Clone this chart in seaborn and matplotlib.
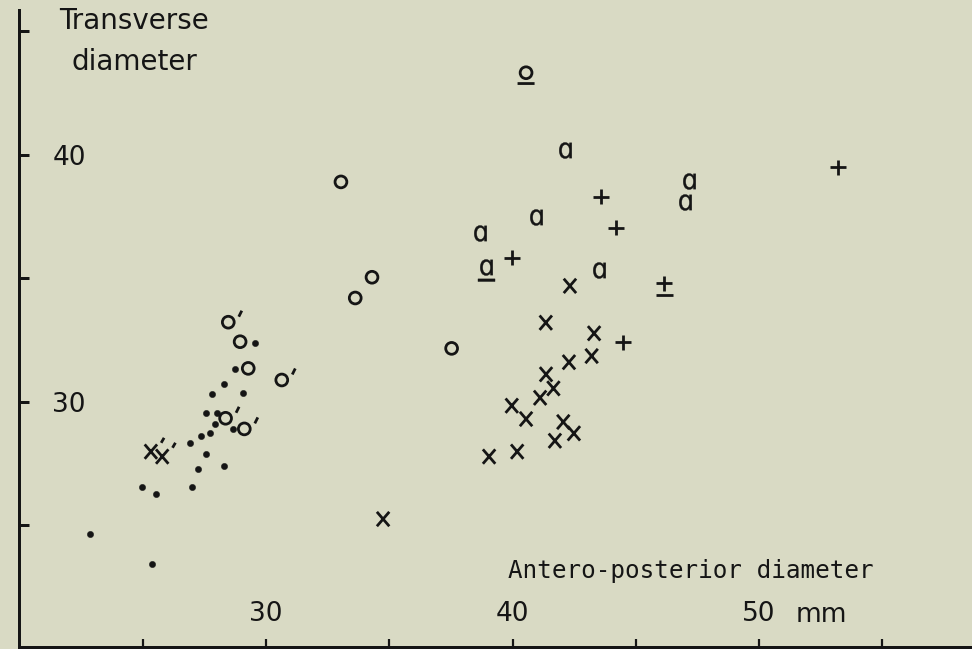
import numpy as np
import pandas as pd
import matplotlib
matplotlib.use("Agg")
import matplotlib.pyplot as plt
import seaborn as sns
from matplotlib.path import Path
from matplotlib.textpath import TextPath
from matplotlib.font_manager import FontProperties

# ---------------- data ----------------
# filled dots
dot_x = [22.86, 24.96, 25.55, 25.39, 26.99, 27.26, 28.31, 27.55, 26.90, 27.38,
         27.73, 27.95, 28.67, 27.57, 28.00, 27.81, 29.07, 28.30, 28.76, 29.55]
dot_y = [24.67, 26.56, 26.26, 23.45, 26.57, 27.30, 27.41, 27.89, 28.33, 28.63,
         28.74, 29.09, 28.91, 29.54, 29.57, 30.31, 30.36, 30.72, 31.33, 32.38]
# open circles "o"
o_x = [28.95, 29.28, 33.04, 34.30, 33.62, 37.53]
o_y = [32.44, 31.36, 38.91, 35.05, 34.21, 32.17]
# primed circles "o'"
op_x = [28.47, 30.64, 28.36, 29.12]
op_y = [33.23, 30.89, 29.34, 28.91]
# underlined circle
ou_x = [40.55]
ou_y = [43.33]
# crosses "x"
x_x = [34.75, 42.33, 41.35, 43.31, 43.21, 42.29, 41.36, 41.66, 41.12, 39.97,
       40.55, 42.06, 42.49, 41.72, 39.05, 40.19]
x_y = [25.26, 34.70, 33.21, 32.78, 31.86, 31.61, 31.12, 30.55, 30.17, 29.85,
       29.31, 29.19, 28.73, 28.43, 27.79, 27.99]
# primed crosses "x'"
xp_x = [25.33, 25.79]
xp_y = [27.99, 27.79]
# plus "+"
p_x = [53.22, 43.59, 44.20, 39.98, 44.47]
p_y = [39.50, 38.31, 37.06, 35.83, 32.42]
# underlined plus
pu_x = [46.16]
pu_y = [34.81]
# letter "a"
a_x = [42.13, 47.17, 47.00, 40.95, 38.68, 43.50]
a_y = [40.20, 38.96, 38.08, 37.50, 36.85, 35.34]
# underlined "a"
au_x = [38.91]
au_y = [35.48]

x_ticks = [25, 30, 35, 40, 45, 50, 55]
x_ticklabels = ["", "30", "", "40", "", "50", ""]
y_ticks = [25, 30, 35, 40, 45]
y_ticklabels = ["", "30", "", "40", ""]

# ---------------- style ----------------
DPI = 100
BG = "#d9dac4"
INK = "#151515"

sns.set_theme(style="white")
plt.rcParams["font.family"] = ["DejaVu Sans"]
plt.rcParams["text.color"] = INK


def pt(px):
    return px * 72.0 / DPI


def compound(*paths):
    return Path.make_compound_path(*paths)


def finish(path):
    v = np.array(path.vertices, dtype=float)
    c = path.codes
    if c is not None:
        v[c == Path.CLOSEPOLY] = 0.0
    p = Path(v, c)
    return p, pt(2 * np.abs(v).max()) ** 2


def seg(x0, y0, x1, y1):
    return Path([(x0, y0), (x1, y1)], [Path.MOVETO, Path.LINETO])


def rect(x0, y0, w, h):
    return Path([(x0, y0), (x0 + w, y0), (x0 + w, y0 + h), (x0, y0 + h), (x0, y0)],
                [Path.MOVETO, Path.LINETO, Path.LINETO, Path.LINETO, Path.CLOSEPOLY])


def ring(r=5.9):
    return Path.circle((0, 0), r)


def glyph_a(w=12.5, h=16.0):
    tp = TextPath((0, 0), "\u0251", size=1,
                  prop=FontProperties(family="DejaVu Sans"))
    v = np.array(tp.vertices, dtype=float)
    c = np.array(tp.codes)
    real = c != Path.CLOSEPOLY
    x0, y0 = v[real].min(0)
    x1, y1 = v[real].max(0)
    v[:, 0] = (v[:, 0] - (x0 + x1) / 2) / (x1 - x0) * w
    v[:, 1] = (v[:, 1] - (y0 + y1) / 2) / (y1 - y0) * h
    v[~real] = 0.0
    return Path(v, c)


cross = compound(seg(-6.2, -7.2, 6.2, 7.2), seg(-6.2, 7.2, 6.2, -7.2))
plus = compound(seg(-8, 0, 8, 0), seg(0, -7.5, 0, 7.5))

M_ring = finish(ring())
M_ringp = finish(compound(ring(), seg(10.5, 5.5, 13.5, 11.5)))
M_ringu = finish(compound(ring(), seg(-8.5, -10.8, 8.5, -10.8)))
M_cross = finish(cross)
M_crossp = finish(compound(cross, seg(10.3, 8.8, 13.2, 13.8)))
M_plus = finish(plus)
M_plusu = finish(compound(plus, seg(-8.3, -11.8, 8.3, -11.8)))
M_a = finish(glyph_a())
M_au = finish(compound(glyph_a(), rect(-8.5, -14.0, 17, 2.6)))
M_dot = ("o", pt(6.3) ** 2)

# ---------------- figure ----------------
W, H = 972, 649
fig = plt.figure(figsize=(W / DPI, H / DPI), dpi=DPI, facecolor=BG)
left_px, top_px, bottom_px = 19, 10, 646.5
ax = fig.add_axes([left_px / W, (H - bottom_px) / H, 1 - left_px / W, (bottom_px - top_px) / H])
ax.set_facecolor(BG)
ax.set_xlim(19.98, 58.64)
ax.set_ylim(20.10, 45.87)

LW = 2.0


def draw(xs, ys, marker, filled):
    path, s = marker
    df = pd.DataFrame({"x": xs, "y": ys})
    if filled:
        sns.scatterplot(data=df, x="x", y="y", marker=path, s=s, color=INK,
                        edgecolor=INK, linewidth=0.3, ax=ax, legend=False, zorder=3)
    else:
        sns.scatterplot(data=df, x="x", y="y", marker=path, s=s, facecolor="none",
                        edgecolor=INK, linewidth=LW, ax=ax, legend=False, zorder=3)


draw(dot_x, dot_y, M_dot, True)
draw(o_x, o_y, M_ring, False)
draw(op_x, op_y, M_ringp, False)
draw(ou_x, ou_y, M_ringu, False)
draw(x_x, x_y, M_cross, False)
draw(xp_x, xp_y, M_crossp, False)
draw(p_x, p_y, M_plus, False)
draw(pu_x, pu_y, M_plusu, False)
draw(a_x, a_y, M_a, True)
draw(au_x, au_y, M_au, True)

# spines
for side in ("top", "right"):
    ax.spines[side].set_visible(False)
for side in ("left", "bottom"):
    ax.spines[side].set_linewidth(pt(3))
    ax.spines[side].set_color(INK)

ax.set_xticks(x_ticks)
ax.set_xticklabels(x_ticklabels)
ax.set_yticks(y_ticks)
ax.set_yticklabels(y_ticklabels)
ax.tick_params(axis="x", bottom=True, direction="in", length=pt(8), width=pt(2.2), color=INK,
               pad=-pt(bottom_px - 601), labelsize=19, labelcolor=INK)
ax.tick_params(axis="y", left=True, direction="in", length=pt(10), width=pt(3), color=INK,
               pad=-pt(86 - left_px), labelsize=19, labelcolor=INK)

ax.annotate("mm", xy=(50, 0), xycoords=("data", "axes fraction"),
            xytext=(pt(37), pt(bottom_px - 622)), textcoords="offset points",
            ha="left", va="baseline", fontsize=19, color=INK)

ax.set_xlabel("Antero-posterior diameter", fontsize=17.5, family="DejaVu Sans Mono",
              ha="left", va="baseline", color=INK)
ax.xaxis.set_label_coords((508 - left_px) / (W - left_px), (bottom_px - 578) / (bottom_px - top_px))
ax.set_ylabel("Transverse\ndiameter", fontsize=20, rotation=0, ha="center", va="top",
              multialignment="center", linespacing=1.6, color=INK)
ax.yaxis.set_label_coords((134 - left_px) / (W - left_px), 1 + 3 / (bottom_px - top_px))

fig.savefig("out.png", dpi=DPI, facecolor=BG)
